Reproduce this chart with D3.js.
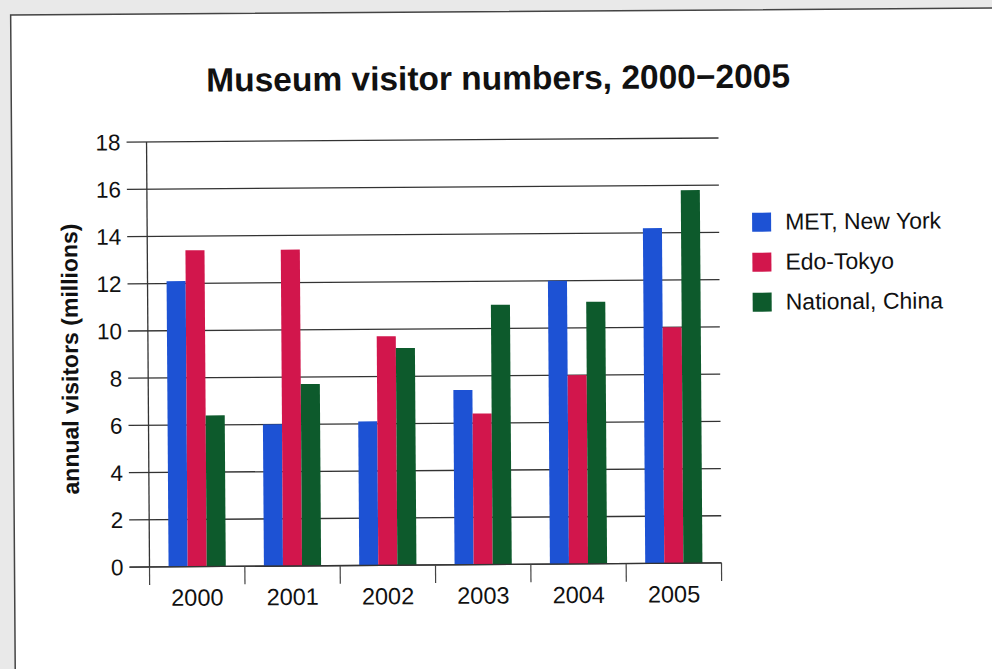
<!DOCTYPE html>
<html>
<head>
<meta charset="utf-8">
<script src="https://d3js.org/d3.v7.min.js"></script>
<style>
  html, body { margin: 0; padding: 0; background: #e9e9e9; }
  svg { display: block; }
</style>
</head>
<body>
<div id="chart"></div>
<script>
// Data
const years = ['2000', '2001', '2002', '2003', '2004', '2005'];
const seriesNames = ['MET, New York', 'Edo-Tokyo', 'National, China'];
const metNewYork = [12.1, 6.0, 6.1, 7.4, 12.0, 14.2];
const edoTokyo = [13.4, 13.4, 9.7, 6.4, 8.0, 10.0];
const nationalChina = [6.4, 7.7, 9.2, 11.0, 11.1, 15.8];
const yTicks = [0, 2, 4, 6, 8, 10, 12, 14, 16, 18];
const seriesColors = ['#1d52d4', '#d2164c', '#0d5a2c'];

const width = 992, height = 669;
const plot = { left: 148, right: 720, top: 140, bottom: 565 };

const svg = d3.select('#chart')
    .append('svg')
    .attr('width', width)
    .attr('height', height)
    .style('font-family', '"Liberation Sans", Arial, sans-serif');

// the scanned page is a little tilted
const page = svg.append('g')
    .attr('transform', 'rotate(-0.4, 430, 350)');

// white sheet, border visible on the top and left only
page.append('rect')
    .attr('x', 13).attr('y', 12)
    .attr('width', 1010).attr('height', 720)
    .attr('fill', '#fff')
    .attr('stroke', '#444')
    .attr('stroke-width', 1.5);

const x0 = d3.scaleBand()
    .domain(years)
    .range([plot.left, plot.right])
    .paddingInner(0.4)
    .paddingOuter(0.2);

const x1 = d3.scaleBand()
    .domain(seriesNames)
    .range([0, x0.bandwidth()]);

const y = d3.scaleLinear()
    .domain([0, 18])
    .range([plot.bottom, plot.top]);

const color = d3.scaleOrdinal()
    .domain(seriesNames)
    .range(seriesColors);

// Title
page.append('text')
    .attr('x', 500)
    .attr('y', 90)
    .attr('text-anchor', 'middle')
    .attr('font-size', '33.5px')
    .attr('font-weight', 'bold')
    .attr('fill', '#111')
    .text('Museum visitor numbers, 2000\u22122005');

// Gridlines (they also stick out left of the axis as ticks)
page.append('g')
    .selectAll('line')
    .data(yTicks)
    .enter()
    .append('line')
    .attr('x1', plot.left - 20)
    .attr('x2', plot.right)
    .attr('y1', d => y(d))
    .attr('y2', d => y(d))
    .attr('stroke', '#333')
    .attr('stroke-width', 1.3);

// Y axis tick labels
page.append('g')
    .selectAll('text')
    .data(yTicks)
    .enter()
    .append('text')
    .attr('x', plot.left - 26)
    .attr('y', d => y(d))
    .attr('dy', '0.36em')
    .attr('text-anchor', 'end')
    .attr('font-size', '22.5px')
    .attr('fill', '#111')
    .text(d => d);

// Y axis line
page.append('line')
    .attr('x1', plot.left).attr('x2', plot.left)
    .attr('y1', plot.top).attr('y2', plot.bottom)
    .attr('stroke', '#333')
    .attr('stroke-width', 1.3);

// Y axis title
page.append('text')
    .attr('transform', `translate(78, ${(plot.top + plot.bottom) / 2 + 4}) rotate(-90)`)
    .attr('text-anchor', 'middle')
    .attr('font-size', '23px')
    .attr('font-weight', 'bold')
    .attr('fill', '#111')
    .text('annual visitors (millions)');

// Bars
const rows = years.map((yr, i) => ({
    year: yr,
    values: [metNewYork[i], edoTokyo[i], nationalChina[i]]
}));

const groups = page.append('g')
    .selectAll('g')
    .data(rows)
    .enter()
    .append('g')
    .attr('transform', d => `translate(${x0(d.year)},0)`);

groups.selectAll('rect')
    .data(d => d.values.map((v, k) => ({ name: seriesNames[k], value: v })))
    .enter()
    .append('rect')
    .attr('x', d => x1(d.name))
    .attr('y', d => y(d.value))
    .attr('width', x1.bandwidth())
    .attr('height', d => y(0) - y(d.value))
    .attr('fill', d => color(d.name));

// X axis: baseline drawn over the bars, with ticks between categories
page.append('line')
    .attr('x1', plot.left - 20).attr('x2', plot.right)
    .attr('y1', y(0)).attr('y2', y(0))
    .attr('stroke', '#333')
    .attr('stroke-width', 1.3);

const step = x0.step();
const boundaries = years.map(yr => x0(yr) - x0.paddingOuter() * step)
    .concat([plot.right]);

page.append('g')
    .selectAll('line')
    .data(boundaries)
    .enter()
    .append('line')
    .attr('x1', d => d).attr('x2', d => d)
    .attr('y1', y(0)).attr('y2', y(0) + 18)
    .attr('stroke', '#444')
    .attr('stroke-width', 1.2);

page.append('g')
    .selectAll('text')
    .data(years)
    .enter()
    .append('text')
    .attr('x', d => x0(d) + x0.bandwidth() / 2)
    .attr('y', y(0) + 39)
    .attr('text-anchor', 'middle')
    .attr('font-size', '23.5px')
    .attr('fill', '#111')
    .text(d => d);

// Legend
const legend = page.append('g')
    .selectAll('g')
    .data(seriesNames)
    .enter()
    .append('g')
    .attr('transform', (d, i) => `translate(753, ${215 + i * 40})`);

legend.append('rect')
    .attr('width', 19)
    .attr('height', 19)
    .attr('fill', d => color(d));

legend.append('text')
    .attr('x', 33)
    .attr('y', 17)
    .attr('font-size', '23px')
    .attr('fill', '#111')
    .text(d => d);
</script>
</body>
</html>
